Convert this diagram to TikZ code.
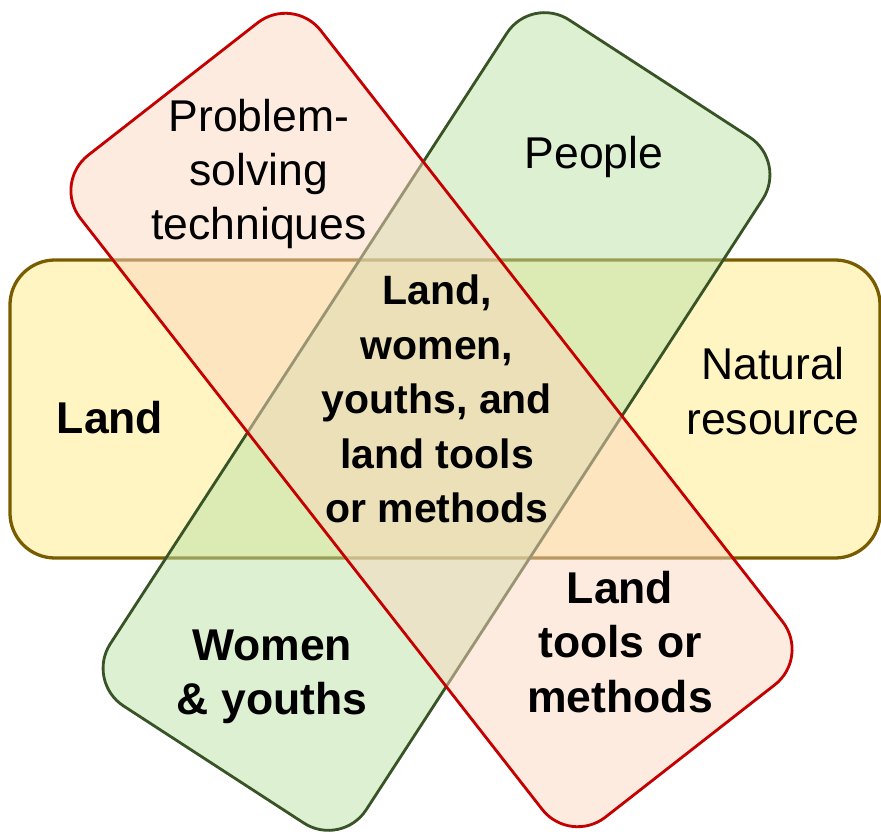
\documentclass[tikz,border=0pt]{standalone}
\usepackage{fontspec}
\setmainfont{Liberation Sans}
\usetikzlibrary{positioning}
\definecolor{landYellow}{RGB}{255,235,133}
\definecolor{landYellowDark}{RGB}{122,92,0}
\definecolor{peopleGreen}{RGB}{187,225,165}
\definecolor{peopleGreenDark}{RGB}{56,84,38}
\definecolor{toolsRed}{RGB}{251,215,191}
\definecolor{toolsRedDark}{RGB}{196,0,0}

\begin{document}
\begin{tikzpicture}[x=0.03cm,y=0.03cm,
  band/.style={rectangle, rounded corners=1.35cm, fill opacity=0.5, line width=2.4pt, minimum height=9.15cm},
  plainlabel/.style={align=center, font=\fontsize{38}{46.5}\selectfont},
  boldlabel/.style={align=center, font=\fontsize{38}{46.5}\selectfont\bfseries}]
\useasboundingbox (0,0) rectangle (881,834);
% three overlapping bands
\node[band, draw=landYellowDark, fill=landYellow, line width=2.8pt, minimum width=26.1cm, minimum height=8.94cm] (landband) at (445,425) {};
\node[band, draw=peopleGreenDark, fill=peopleGreen, minimum width=24.54cm, rotate=57] (peopleband) at (436.5,412.5) {};
\node[band, draw=toolsRedDark, fill=toolsRed, minimum width=25.2cm, rotate=-52] (toolsband) at (431.5,414) {};
% labels
\node[plainlabel] (problem) at (259,660) {Problem-\\solving\\techniques};
\node[plainlabel] (people) at (594,677) {People};
\node[plainlabel] (natural) at (773,443) {Natural\\resource};
\node[boldlabel] (land) at (110,416) {Land};
\node[boldlabel, font=\fontsize{35}{46.5}\selectfont\bfseries] (overlap) at (437,435) {Land,\\women,\\youths, and\\land tools\\or methods};
\node[boldlabel] (women) at (272,157) {Women\\\& youths};
\node[boldlabel] (tools) at (620,192) {Land\\tools or\\methods};
\end{tikzpicture}
\end{document}
